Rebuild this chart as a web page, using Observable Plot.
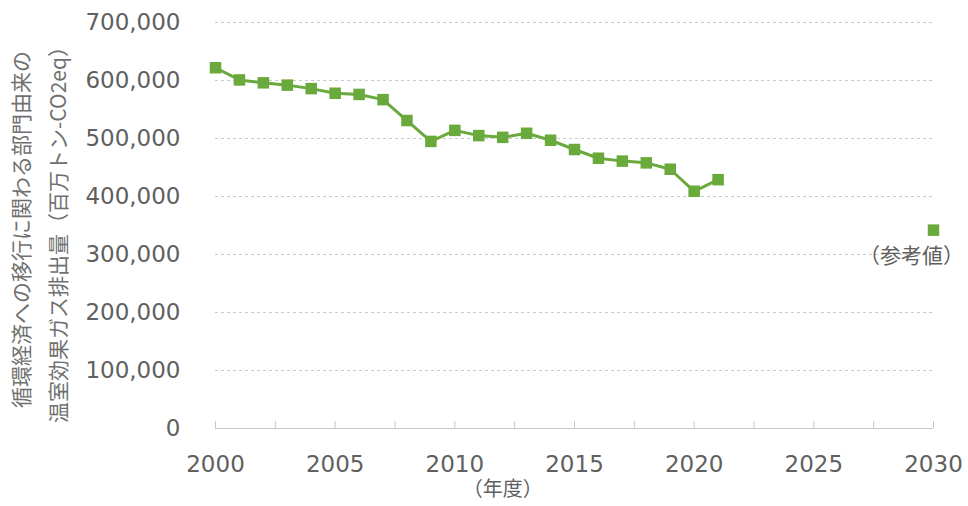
<!DOCTYPE html>
<html>
<head>
<meta charset="utf-8">
<script src="https://cdn.jsdelivr.net/npm/d3@7"></script>
<script src="https://cdn.jsdelivr.net/npm/@observablehq/plot@0.6"></script>
<style>
  html, body { margin: 0; padding: 0; background: #fff; }
  #chart svg { display: block; }
</style>
</head>
<body>
<div id="chart"></div>
<script>
const years = [2000, 2001, 2002, 2003, 2004, 2005, 2006, 2007, 2008, 2009, 2010,
               2011, 2012, 2013, 2014, 2015, 2016, 2017, 2018, 2019, 2020, 2021];
const emissions = [622000, 601000, 596000, 592000, 586000, 578000, 576000, 567000, 531000, 495000, 514000,
                   505000, 502000, 509000, 497000, 481000, 466000, 461000, 458000, 447000, 409000, 429000];
const refYear = [2030];
const refValue = [342000];
const refLabel = ["（参考値）"];
const yTicks = [0, 100000, 200000, 300000, 400000, 500000, 600000, 700000];
const xLabelTicks = [2000, 2005, 2010, 2015, 2020, 2025, 2030];
const xTickMarks = [2000, 2002.5, 2005, 2007.5, 2010, 2012.5, 2015, 2017.5, 2020, 2022.5, 2025, 2027.5, 2030];
const yTitle = "循環経済への移行に関わる部門由来の\n温室効果ガス排出量（百万トン-CO2eq）";
const xTitle = ["（年度）"];
const xTitleYear = [2012];

const series = years.map((y, i) => ({year: y, value: emissions[i]}));
const refData = refYear.map((y, i) => ({year: y, value: refValue[i], label: refLabel[i]}));

const green = "#6aaa3c";
const textColor = "#606060";
const digitFont = "'DejaVu Sans', Verdana, sans-serif";
const jpFont = "'Noto Sans CJK JP', sans-serif";

const chart = Plot.plot({
  width: 968,
  height: 506,
  marginTop: 22,
  marginBottom: 78,
  marginLeft: 215,
  marginRight: 35,
  style: {fontFamily: digitFont, color: textColor, background: "#fff"},
  x: {domain: [2000, 2030]},
  y: {domain: [0, 700000]},
  marks: [
    Plot.ruleY(yTicks.filter(d => d > 0), {stroke: "#c8c8c8", strokeDasharray: "3,3", strokeWidth: 1}),
    Plot.ruleY([0], {stroke: "#c8c8c8", strokeWidth: 1.2}),
    Plot.axisY({ticks: yTicks, tickSize: 0, tickPadding: 35, tickFormat: d3.format(","),
                fontSize: 23, fontFamily: digitFont, fill: textColor, label: null}),
    Plot.axisX({ticks: xTickMarks, tickSize: -7, stroke: "#c8c8c8", tickFormat: () => "", label: null}),
    Plot.axisX({ticks: xLabelTicks, tickSize: 0, tickPadding: 27, tickFormat: d => String(d),
                fontSize: 23, fontFamily: digitFont, fill: textColor, label: null}),
    Plot.line(series, {x: "year", y: "value", stroke: green, strokeWidth: 3}),
    Plot.dot(series, {x: "year", y: "value", symbol: "square", r: 6.5, fill: green, stroke: "none"}),
    Plot.dot(refData, {x: "year", y: "value", symbol: "square", r: 6.5, fill: green, stroke: "none"}),
    Plot.text(refData, {x: "year", y: "value", text: "label", dy: 26, dx: -22, fontSize: 21,
                        fontFamily: jpFont, fill: textColor}),
    Plot.text(xTitle, {x: xTitleYear, frameAnchor: "bottom", text: d => d, dy: 67, fontSize: 20,
                       fontFamily: jpFont, fill: textColor}),
    Plot.text([yTitle], {frameAnchor: "left", textAnchor: "middle", text: d => d, rotate: -90, dx: -180, dy: 4,
                         fontSize: 21, lineHeight: 1.75, fontFamily: jpFont, fill: "#707070"})
  ]
});
document.getElementById("chart").appendChild(chart);
</script>
</body>
</html>
